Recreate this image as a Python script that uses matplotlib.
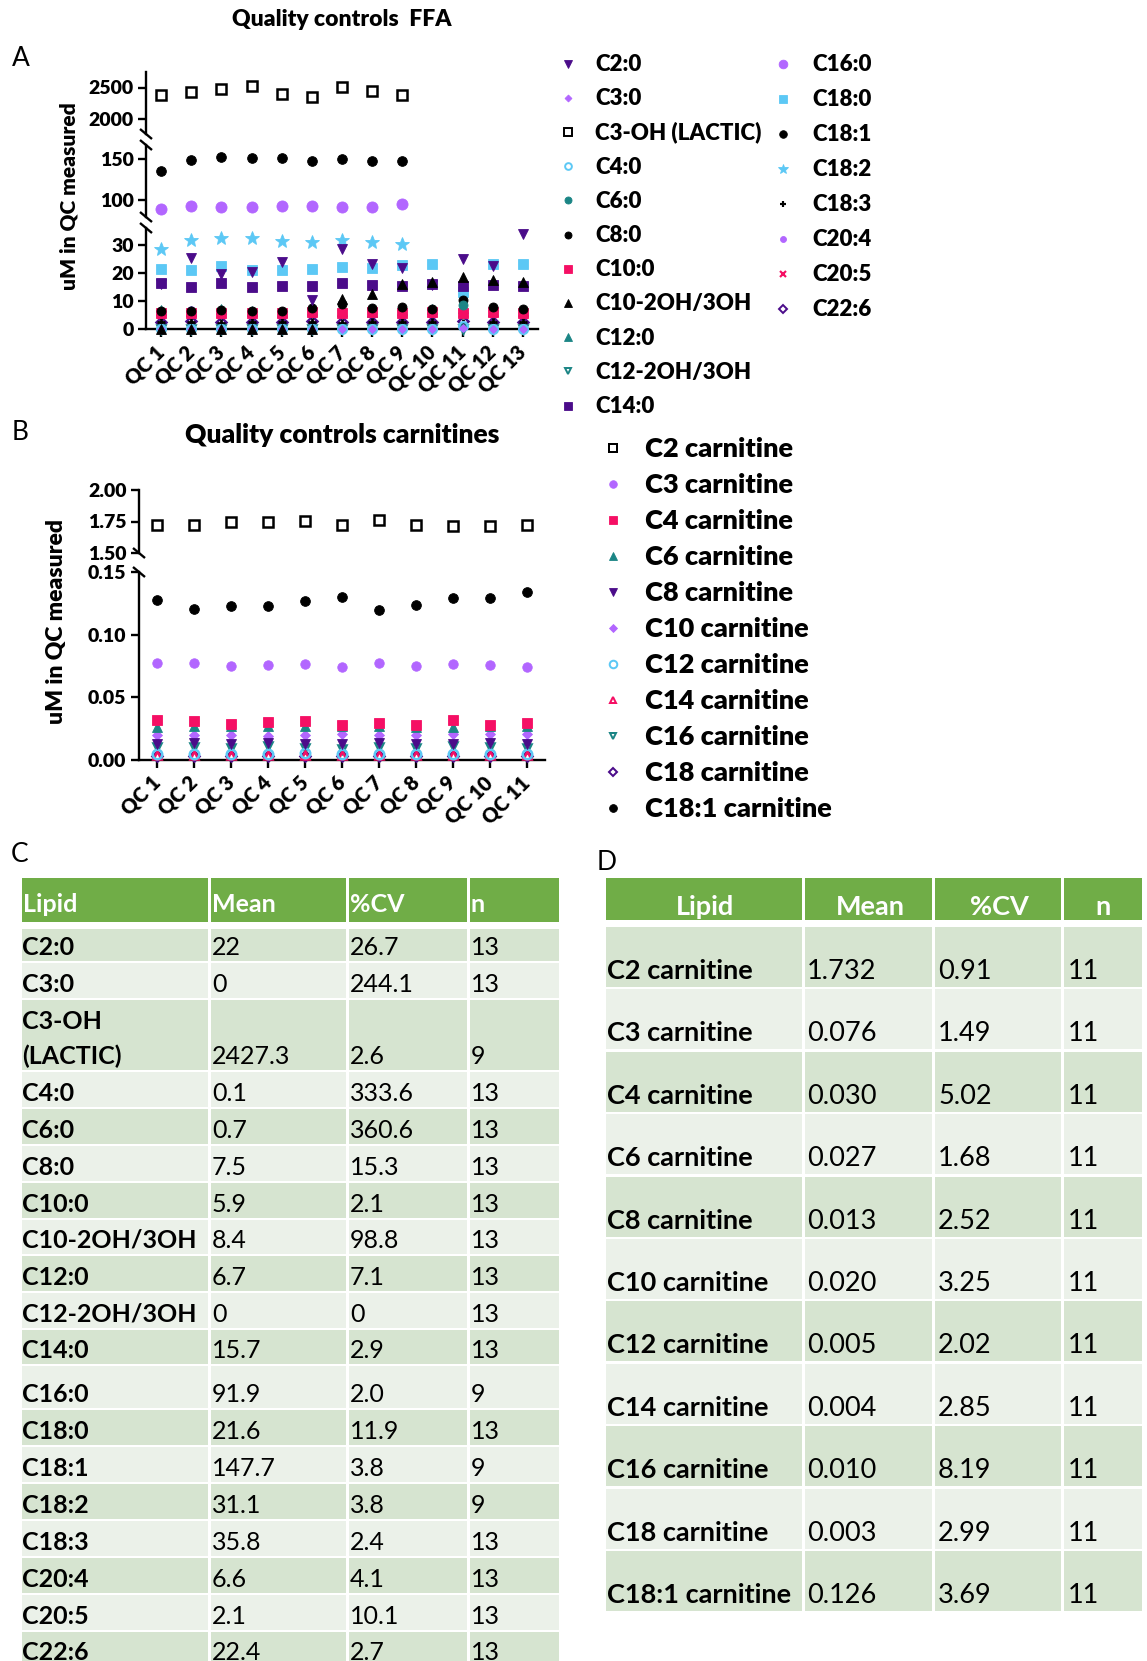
import numpy as np
import matplotlib
matplotlib.use("Agg")
import matplotlib.pyplot as plt
from matplotlib.patches import Rectangle

plt.rcParams['font.family'] = ['Lato', 'DejaVu Sans']
plt.rcParams['axes.linewidth'] = 1.6

W, H = 1147, 1661
nan = np.nan
HEAVY = 'heavy'

# ---------------- panel A: free fatty acids measured in QC samples (uM) ----------------
ffa_qc = ["QC 1", "QC 2", "QC 3", "QC 4", "QC 5", "QC 6", "QC 7",
          "QC 8", "QC 9", "QC 10", "QC 11", "QC 12", "QC 13"]

c2_0 = [16.0, 25.4, 19.7, 20.3, 24.0, 10.3, 28.4, 23.2, 21.7, 15.6, 25.0, 22.6, 33.8]
c3_0 = [0, 0, 0, 0, 0, 0, 0, 0, 0, 0, 0.3, 0, 0]
c3_oh = [2376, 2424, 2473, 2526, 2392, 2339, 2505, 2440, 2371, nan, nan, nan, nan]
c4_0 = [0, 0, 0, 0, 0, 0, 0, 0, 0, 0, 1.2, 0, 0]
c6_0 = [0, 0, 0, 0, 0, 0, 0, 0, 0, 0, 8.6, 0, 0]
c8_0 = [6.4, 6.4, 6.8, 6.4, 6.4, 7.6, 9.1, 7.7, 7.8, 7.3, 10.3, 7.8, 7.3]
c10_0 = [5.8, 5.9, 5.8, 5.9, 5.7, 6.0, 5.9, 6.0, 5.9, 6.1, 5.9, 6.0, 5.8]
c10_2oh3oh = [0, 0, 0, 0, 0, 0, 10.7, 12.7, 16.2, 16.8, 18.5, 17.4, 16.8]
c12_0 = [6.9, 6.4, 7.2, 6.5, 6.3, 6.8, 6.6, 6.2, 6.9, 7.3, 7.5, 6.4, 6.5]
c12_2oh3oh = [0, 0, 0, 0, 0, 0, 0, 0, 0, 0, 0, 0, 0]
c14_0 = [16.5, 15.1, 16.4, 15.2, 15.3, 15.4, 16.4, 15.8, 15.4, 16.0, 15.3, 15.6, 15.3]
c16_0 = [89.0, 92.3, 91.6, 91.4, 92.8, 92.6, 91.2, 91.4, 94.4, nan, nan, nan, nan]
c18_0 = [21.5, 21.2, 22.6, 21.2, 21.2, 21.6, 22.3, 21.9, 22.9, 23.3, 13.2, 23.3, 23.3]
c18_1 = [134.8, 148.2, 152.7, 151.0, 151.4, 147.0, 149.4, 147.8, 147.0, nan, nan, nan, nan]
c18_2 = [28.4, 31.8, 32.4, 32.4, 31.3, 31.2, 31.8, 31.2, 30.4, nan, nan, nan, nan]
c18_3 = [2.5, 2.6, 2.4, 2.5, 2.6, 2.5, 2.4, 2.5, 2.6, 2.5, 2.4, 2.5, 2.6]
c20_4 = [6.5, 6.7, 6.6, 6.4, 6.6, 6.8, 6.5, 6.7, 6.6, 6.9, 6.2, 6.6, 6.5]
c20_5 = [5.6, 5.7, 5.6, 5.7, 5.5, 5.8, 5.7, 5.8, 5.7, 5.9, 5.7, 5.8, 5.6]
c22_6 = [2.7, 2.8, 2.7, 2.6, 2.7, 2.8, 2.7, 2.7, 2.6, 2.7, 2.8, 2.7, 2.7]

ffa_series = [
    ("C2:0", c2_0), ("C3:0", c3_0), ("C3-OH (LACTIC)", c3_oh), ("C4:0", c4_0),
    ("C6:0", c6_0), ("C8:0", c8_0), ("C10:0", c10_0), ("C10-2OH/3OH", c10_2oh3oh),
    ("C12:0", c12_0), ("C12-2OH/3OH", c12_2oh3oh), ("C14:0", c14_0),
    ("C16:0", c16_0), ("C18:0", c18_0), ("C18:1", c18_1), ("C18:2", c18_2),
    ("C18:3", c18_3), ("C20:4", c20_4), ("C20:5", c20_5), ("C22:6", c22_6),
]

# ---------------- panel B: acyl-carnitines measured in QC samples (uM) ----------------
carn_qc = ["QC 1", "QC 2", "QC 3", "QC 4", "QC 5", "QC 6",
           "QC 7", "QC 8", "QC 9", "QC 10", "QC 11"]

c2_carn = [1.725, 1.725, 1.744, 1.747, 1.751, 1.722, 1.762, 1.725, 1.714, 1.717, 1.725]
c3_carn = [0.0776, 0.0771, 0.0752, 0.0757, 0.0765, 0.0744, 0.0771, 0.0749, 0.0768, 0.0757, 0.0744]
c4_carn = [0.0318, 0.0315, 0.0287, 0.0302, 0.0310, 0.0279, 0.0299, 0.0282, 0.0318, 0.0282, 0.0298]
c6_carn = [0.0265, 0.0270, 0.0268, 0.0272, 0.0275, 0.0270, 0.0268, 0.0266, 0.0263, 0.0272, 0.0271]
c8_carn = [0.0128, 0.0132, 0.0131, 0.0133, 0.0130, 0.0127, 0.0134, 0.0131, 0.0128, 0.0132, 0.0130]
c10_carn = [0.0200, 0.0198, 0.0197, 0.0193, 0.0196, 0.0204, 0.0198, 0.0201, 0.0205, 0.0206, 0.0207]
c12_carn = [0.0050, 0.0049, 0.0051, 0.0050, 0.0052, 0.0050, 0.0049, 0.0051, 0.0050, 0.0049, 0.0050]
c14_carn = [0.0041, 0.0040, 0.0039, 0.0041, 0.0040, 0.0039, 0.0040, 0.0042, 0.0040, 0.0039, 0.0041]
c16_carn = [0.0100, 0.0105, 0.0092, 0.0110, 0.0099, 0.0088, 0.0102, 0.0096, 0.0112, 0.0101, 0.0095]
c18_carn = [0.0030, 0.0031, 0.0029, 0.0030, 0.0031, 0.0029, 0.0030, 0.0030, 0.0031, 0.0029, 0.0030]
c18_1_carn = [0.1275, 0.1203, 0.1225, 0.1230, 0.1265, 0.1300, 0.1196, 0.1233, 0.1290, 0.1290, 0.1344]

carn_series = [
    ("C2 carnitine", c2_carn), ("C3 carnitine", c3_carn), ("C4 carnitine", c4_carn),
    ("C6 carnitine", c6_carn), ("C8 carnitine", c8_carn), ("C10 carnitine", c10_carn),
    ("C12 carnitine", c12_carn), ("C14 carnitine", c14_carn), ("C16 carnitine", c16_carn),
    ("C18 carnitine", c18_carn), ("C18:1 carnitine", c18_1_carn),
]

# ---------------- panel C: FFA summary table ----------------
ffa_tab_lipid = ["C2:0", "C3:0", "C3-OH\n(LACTIC)", "C4:0", "C6:0", "C8:0", "C10:0",
                 "C10-2OH/3OH", "C12:0", "C12-2OH/3OH", "C14:0", "C16:0", "C18:0",
                 "C18:1", "C18:2", "C18:3", "C20:4", "C20:5", "C22:6"]
ffa_tab_mean = ["22", "0", "2427.3", "0.1", "0.7", "7.5", "5.9", "8.4", "6.7", "0",
                "15.7", "91.9", "21.6", "147.7", "31.1", "35.8", "6.6", "2.1", "22.4"]
ffa_tab_cv = ["26.7", "244.1", "2.6", "333.6", "360.6", "15.3", "2.1", "98.8", "7.1", "0",
              "2.9", "2.0", "11.9", "3.8", "3.8", "2.4", "4.1", "10.1", "2.7"]
ffa_tab_n = [13, 13, 9, 13, 13, 13, 13, 13, 13, 13, 13, 9, 13, 9, 9, 13, 13, 13, 13]

# ---------------- panel D: carnitine summary table ----------------
carn_tab_lipid = ["C2 carnitine", "C3 carnitine", "C4 carnitine", "C6 carnitine",
                  "C8 carnitine", "C10 carnitine", "C12 carnitine", "C14 carnitine",
                  "C16 carnitine", "C18 carnitine", "C18:1 carnitine"]
carn_tab_mean = [1.732, 0.076, 0.030, 0.027, 0.013, 0.020, 0.005, 0.004, 0.010, 0.003, 0.126]
carn_tab_cv = [0.91, 1.49, 5.02, 1.68, 2.52, 3.25, 2.02, 2.85, 8.19, 2.99, 3.69]
carn_tab_n = [11, 11, 11, 11, 11, 11, 11, 11, 11, 11, 11]

table_header = ["Lipid", "Mean", "%CV", "n"]

# ---------------- colours and marker styles ----------------
DARK_PURPLE = '#4B0C8A'
LIGHT_PURPLE = '#B266FF'
BLACK = '#000000'
LIGHT_BLUE = '#5CC8F5'
TEAL = '#1B8585'
PINK = '#F50F64'
HEADER_GREEN = '#70AD47'
BAND_DARK = '#D6E4D0'
BAND_LIGHT = '#EBF1E9'

# (marker, colour, filled, size in pt)
ffa_style = {
    "C2:0": ('v', DARK_PURPLE, True, 7),
    "C3:0": ('D', LIGHT_PURPLE, True, 4.5),
    "C3-OH (LACTIC)": ('s', BLACK, False, 6.8),
    "C4:0": ('o', LIGHT_BLUE, False, 6.2),
    "C6:0": ('o', TEAL, True, 6.5),
    "C8:0": ('o', BLACK, True, 6.5),
    "C10:0": ('s', PINK, True, 6.5),
    "C10-2OH/3OH": ('^', BLACK, True, 7.2),
    "C12:0": ('^', TEAL, True, 6.5),
    "C12-2OH/3OH": ('v', TEAL, False, 6),
    "C14:0": ('s', DARK_PURPLE, True, 7),
    "C16:0": ('o', LIGHT_PURPLE, True, 8),
    "C18:0": ('s', LIGHT_BLUE, True, 7.2),
    "C18:1": ('o', BLACK, True, 7),
    "C18:2": ('*', LIGHT_BLUE, True, 10),
    "C18:3": ('+', BLACK, True, 6),
    "C20:4": ('o', LIGHT_PURPLE, True, 5.5),
    "C20:5": ('x', PINK, True, 5.5),
    "C22:6": ('D', DARK_PURPLE, False, 5),
}
carn_style = {
    "C2 carnitine": ('s', BLACK, False, 6.8),
    "C3 carnitine": ('o', LIGHT_PURPLE, True, 6.8),
    "C4 carnitine": ('s', PINK, True, 7),
    "C6 carnitine": ('^', TEAL, True, 7),
    "C8 carnitine": ('v', DARK_PURPLE, True, 7),
    "C10 carnitine": ('D', LIGHT_PURPLE, True, 4.8),
    "C12 carnitine": ('o', LIGHT_BLUE, False, 6.8),
    "C14 carnitine": ('^', PINK, False, 5.2),
    "C16 carnitine": ('v', TEAL, False, 5.5),
    "C18 carnitine": ('D', DARK_PURPLE, False, 4.6),
    "C18:1 carnitine": ('o', BLACK, True, 7),
}


def marker_kw(style, scale=1.0):
    marker, color, filled, ms = style
    kw = dict(marker=marker, markersize=ms * scale, linestyle='none')
    if marker in ('+', 'x'):
        kw.update(markeredgecolor=color, markeredgewidth=2.0 * scale)
    elif filled:
        kw.update(markerfacecolor=color, markeredgecolor=color, markeredgewidth=0.6)
    else:
        kw.update(markerfacecolor='none', markeredgecolor=color, markeredgewidth=1.8 * scale)
    return kw


fig = plt.figure(figsize=(W / 100, H / 100), dpi=100)
fig.patch.set_facecolor('white')

# overlay in pixel units for labels, legends, break marks and tables
ov = fig.add_axes([0, 0, 1, 1])
ov.set_xlim(0, W)
ov.set_ylim(H, 0)
ov.axis('off')


def px_axes(x0, y0, x1, y1):
    ax = fig.add_axes([x0 / W, 1 - y1 / H, (x1 - x0) / W, (y1 - y0) / H])
    ax.patch.set_alpha(0)
    return ax


def style_segment(ax, ylim, yticks, fmt, show_x, xlabels):
    ax.set_ylim(*ylim)
    ax.set_xlim(0.5, len(xlabels) + 0.5)
    for s in ('top', 'right'):
        ax.spines[s].set_visible(False)
    ax.spines['left'].set_linewidth(1.7)
    ax.set_yticks(yticks)
    ax.set_yticklabels([fmt.format(v) for v in yticks], fontsize=14, fontweight=HEAVY)
    ax.tick_params(axis='y', length=6, width=1.7, pad=3)
    if show_x:
        ax.spines['bottom'].set_linewidth(1.7)
        ax.set_xticks(np.arange(1, len(xlabels) + 1))
        ax.set_xticklabels(xlabels, rotation=45, ha='right', va='center',
                           rotation_mode='anchor', fontsize=14.5, fontweight=HEAVY)
        ax.tick_params(axis='x', length=6, width=1.7, pad=8)
    else:
        ax.spines['bottom'].set_visible(False)
        ax.set_xticks([])


def plot_segments(axes, series, styles, top_first=None):
    n = len(series)
    for i, (name, vals) in enumerate(series):
        y = np.asarray(vals, dtype=float)
        x = np.arange(1, len(y) + 1)
        z = 3 + (n - i) * 0.1
        if top_first is not None and name in top_first:
            z = 6
        for ax in axes:
            lo, hi = ax.get_ylim()
            m = np.isfinite(y) & (y >= lo) & (y <= hi)
            ax.plot(x[m], y[m], clip_on=False, zorder=z, **marker_kw(styles[name]))


def break_mark(x, y):
    ov.plot([x - 6, x + 6], [y - 5, y + 5], color='black', lw=1.7, solid_capstyle='butt')


# ---------------- panel A ----------------
AX0, AX1 = 146, 538
a_top = px_axes(AX0, 72, AX1, 134)
a_mid = px_axes(AX0, 145, AX1, 217)
a_bot = px_axes(AX0, 228, AX1, 329.3)
style_segment(a_top, (1750, 2750), [2000, 2500], '{:d}', False, ffa_qc)
style_segment(a_mid, (79, 167), [100, 150], '{:d}', False, ffa_qc)
style_segment(a_bot, (0, 36), [0, 10, 20, 30], '{:d}', True, ffa_qc)
plot_segments([a_top, a_mid, a_bot], ffa_series, ffa_style, top_first={"C10-2OH/3OH"})
for yb in (134, 145, 217, 228):
    break_mark(AX0, yb)

ov.text(21, 59, "A", fontsize=19, ha='center', va='center')
ov.text((AX0 + AX1) / 2, 20, "Quality controls  FFA", fontsize=16.5, fontweight=HEAVY,
        ha='center', va='center')
ov.text(69, 196, "uM in QC measured", fontsize=15, fontweight=HEAVY, rotation=90,
        ha='center', va='center')

# legend A (two columns)
for i, (name, _) in enumerate(ffa_series):
    if i < 11:
        mx, tx, my = 568, 595, 63.5 + 34.2 * i
    else:
        mx, tx, my = 783, 812, 63.5 + 35.0 * (i - 11)
    ov.plot([mx], [my], **marker_kw(ffa_style[name], scale=0.78))
    ov.text(tx, my + 7.5, name, fontsize=16, fontweight=HEAVY, va='baseline', ha='left')

# ---------------- panel B ----------------
BX0, BX1 = 139, 545
b_top = px_axes(BX0, 490, BX1, 553)
b_bot = px_axes(BX0, 572, BX1, 760)
style_segment(b_top, (1.5, 2.0), [1.5, 1.75, 2.0], '{:.2f}', False, carn_qc)
style_segment(b_bot, (0, 0.15), [0, 0.05, 0.10, 0.15], '{:.2f}', True, carn_qc)
plot_segments([b_top, b_bot], carn_series, carn_style)
for yb in (553, 572):
    break_mark(BX0, yb)

ov.text(20, 432, "B", fontsize=19, ha='center', va='center')
ov.text((BX0 + BX1) / 2, 435, "Quality controls carnitines", fontsize=19, fontweight=HEAVY,
        ha='center', va='center')
ov.text(56, 622, "uM in QC measured", fontsize=16.5, fontweight=HEAVY, rotation=90,
        ha='center', va='center')

for i, (name, _) in enumerate(carn_series):
    my = 448 + 36.0 * i
    ov.plot([613], [my], **marker_kw(carn_style[name], scale=0.8))
    ov.text(645, my + 9, name, fontsize=19.5, fontweight=HEAVY, va='baseline', ha='left')


# ---------------- tables ----------------
def cell(x0, x1, y0, y1, color, last_col):
    gap = 0 if last_col else 3
    ov.add_patch(Rectangle((x0, y0), x1 - x0 - gap, y1 - y0, facecolor=color,
                           edgecolor='none', zorder=1))


def draw_table(cols, header_box, header_centered, header_base, row_tops, row_bots,
               rows, text_x, base_off, fs, line_gap):
    ncol = len(cols) - 1
    for j in range(ncol):
        cell(cols[j], cols[j + 1], header_box[0], header_box[1], HEADER_GREEN, j == ncol - 1)
        if header_centered:
            ov.text((cols[j] + cols[j + 1]) / 2, header_base, table_header[j], color='white',
                    fontsize=fs, fontweight='bold', ha='center', va='baseline', zorder=2)
        else:
            ov.text(cols[j] + 1, header_base, table_header[j], color='white',
                    fontsize=fs, fontweight='bold', ha='left', va='baseline', zorder=2)
    for r, vals in enumerate(rows):
        band = BAND_DARK if r % 2 == 0 else BAND_LIGHT
        top, bot = row_tops[r], row_bots[r]
        for j in range(ncol):
            cell(cols[j], cols[j + 1], top, bot, band, j == ncol - 1)
        base = bot - base_off
        lines = vals[0].split("\n")
        for k, line in enumerate(reversed(lines)):
            ov.text(text_x[0], base - line_gap * k, line, fontsize=fs, fontweight='bold',
                    ha='left', va='baseline', zorder=2)
        for j in range(1, ncol):
            ov.text(text_x[j], base, vals[j], fontsize=fs, ha='left', va='baseline', zorder=2)


# table C
c_cols = [22, 211, 349, 470, 559]
c_row_tops = [929, 963, 1000, 1072, 1109, 1146, 1183, 1220, 1256, 1293, 1330, 1366,
              1410, 1447, 1484, 1521, 1558, 1595, 1632]
c_row_bots = [t - 2 for t in c_row_tops[1:]] + [1666]
c_rows = [(ffa_tab_lipid[i], ffa_tab_mean[i], ffa_tab_cv[i], str(ffa_tab_n[i]))
          for i in range(len(ffa_tab_lipid))]
draw_table(c_cols, (878, 922), False, 912, c_row_tops, c_row_bots, c_rows,
           [22, 212, 350, 471], 6, 18, 35)
ov.text(20, 855, "C", fontsize=19, ha='center', va='center')

# table D
d_cols = [606, 805, 935, 1064, 1142]
d_row_tops = [927 + 62.4 * i for i in range(len(carn_tab_lipid))]
d_row_bots = [t + 60 for t in d_row_tops]
d_rows = [(carn_tab_lipid[i], f"{carn_tab_mean[i]:.3f}", f"{carn_tab_cv[i]:.2f}",
           str(carn_tab_n[i])) for i in range(len(carn_tab_lipid))]
draw_table(d_cols, (878, 920), True, 915, d_row_tops, d_row_bots, d_rows,
           [607, 807, 938, 1068], 8, 19.5, 35)
ov.text(607, 863, "D", fontsize=19, ha='center', va='center')

fig.savefig("out.png", dpi=100, facecolor='white')
